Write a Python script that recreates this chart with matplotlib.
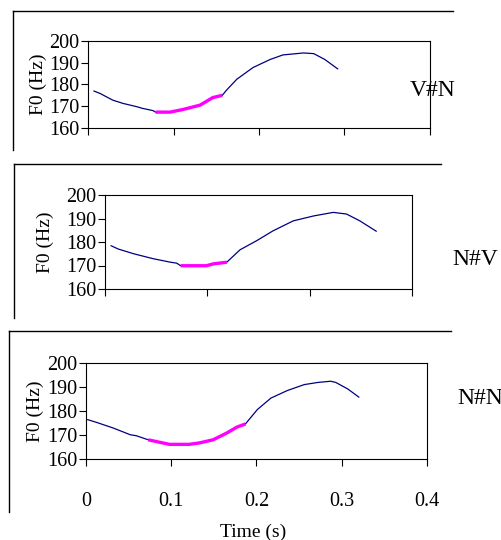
import numpy as np
import matplotlib.pyplot as plt
from matplotlib.lines import Line2D

plt.rcParams['font.family'] = ['Liberation Serif', 'DejaVu Serif']

# F0 contours
t_vn = [0.007, 0.014, 0.029, 0.041, 0.057, 0.064, 0.076, 0.079, 0.096, 0.111, 0.131, 0.146,
        0.157, 0.162, 0.174, 0.193, 0.213, 0.228, 0.252, 0.264, 0.277, 0.292]
f_vn = [177.0, 175.9, 172.8, 171.3, 169.8, 169.0, 168.0, 167.3, 167.3, 168.5, 170.5, 174.0,
        175.0, 177.4, 182.4, 187.8, 191.5, 193.6, 194.5, 194.2, 191.5, 187.2]
hl_vn = (0.079, 0.157)

t_nv = [0.006, 0.013, 0.028, 0.047, 0.064, 0.070, 0.074, 0.099, 0.106, 0.119, 0.132, 0.148,
        0.164, 0.184, 0.204, 0.223, 0.236, 0.249, 0.265]
f_nv = [178.4, 177.0, 175.0, 172.9, 171.4, 171.0, 169.9, 169.9, 170.7, 171.4, 176.7, 180.5,
        184.7, 189.0, 191.1, 192.6, 191.9, 189.0, 184.6]
hl_nv = (0.074, 0.119)

t_nn = [0.002, 0.012, 0.032, 0.052, 0.059, 0.073, 0.086, 0.098, 0.121, 0.133, 0.149, 0.165,
        0.177, 0.187, 0.201, 0.217, 0.236, 0.256, 0.272, 0.287, 0.293, 0.307, 0.320]
f_nn = [176.4, 175.3, 172.9, 170.1, 169.7, 168.0, 167.0, 166.1, 166.1, 166.7, 168.0, 170.8,
        173.3, 174.6, 180.6, 185.4, 188.5, 191.0, 191.9, 192.4, 191.9, 189.2, 185.8]
hl_nn = (0.073, 0.187)

labels = ['V#N', 'N#V', 'N#N']
yticks = [160, 170, 180, 190, 200]

W, H = 502, 540
fig = plt.figure(figsize=(W / 100, H / 100), dpi=100)


def ax_at(l, r, top, bot):
    return fig.add_axes([l / W, 1 - bot / H, (r - l) / W, (bot - top) / H])


def frame(x, y0, y1, x1):
    fig.add_artist(Line2D([x / W, x / W], [1 - y0 / H, 1 - y1 / H], color='black', lw=1))
    fig.add_artist(Line2D([x / W, x1 / W], [1 - y0 / H, 1 - y0 / H], color='black', lw=1))


panels = [
    (t_vn, f_vn, hl_vn, (88, 430, 41, 128), 0.4, (13, 11, 150, 453), (410, 90), 38),
    (t_nv, f_nv, hl_nv, (105, 412, 195, 289), 0.3, (14, 164, 318, 441), (452, 260), 45),
    (t_nn, f_nn, hl_nn, (86, 427, 363, 459), 0.4, (9, 331, 512, 451), (457, 398), 35),
]

for i, (t, f, hl, box, xmax, fr, lab, ylx) in enumerate(panels):
    ax = ax_at(*box)
    t = np.array(t)
    f = np.array(f)
    ax.plot(t, f, color='#000080', lw=0.9)
    m = (t >= hl[0]) & (t <= hl[1])
    ax.plot(t[m], f[m], color='#ff00ff', lw=2.4, solid_capstyle='butt')
    ax.set_xlim(0, xmax)
    ax.set_ylim(160, 200)
    ax.set_yticks(yticks)
    ax.set_xticks(np.arange(0, xmax + 0.001, 0.1))
    ax.tick_params(direction='out', length=5, width=0.8, labelsize=14.5, pad=1)
    if i < 2:
        ax.set_xticklabels([])
    else:
        ax.set_xticklabels(['0', '0.1', '0.2', '0.3', '0.4'])
        ax.tick_params(axis='x', pad=19)
    for s in ax.spines.values():
        s.set_linewidth(0.8)
    fig.text(ylx / W, 1 - (box[2] + box[3]) / 2 / H, 'F0 (Hz)', rotation=90,
             ha='center', va='center', fontsize=14)
    fig.text(lab[0] / W, 1 - lab[1] / H, labels[i], ha='left', va='center', fontsize=17)
    frame(*fr)

fig.text(253 / W, 1 - 532 / H, 'Time (s)', ha='center', va='center', fontsize=14)

fig.savefig('out.png', dpi=100)
